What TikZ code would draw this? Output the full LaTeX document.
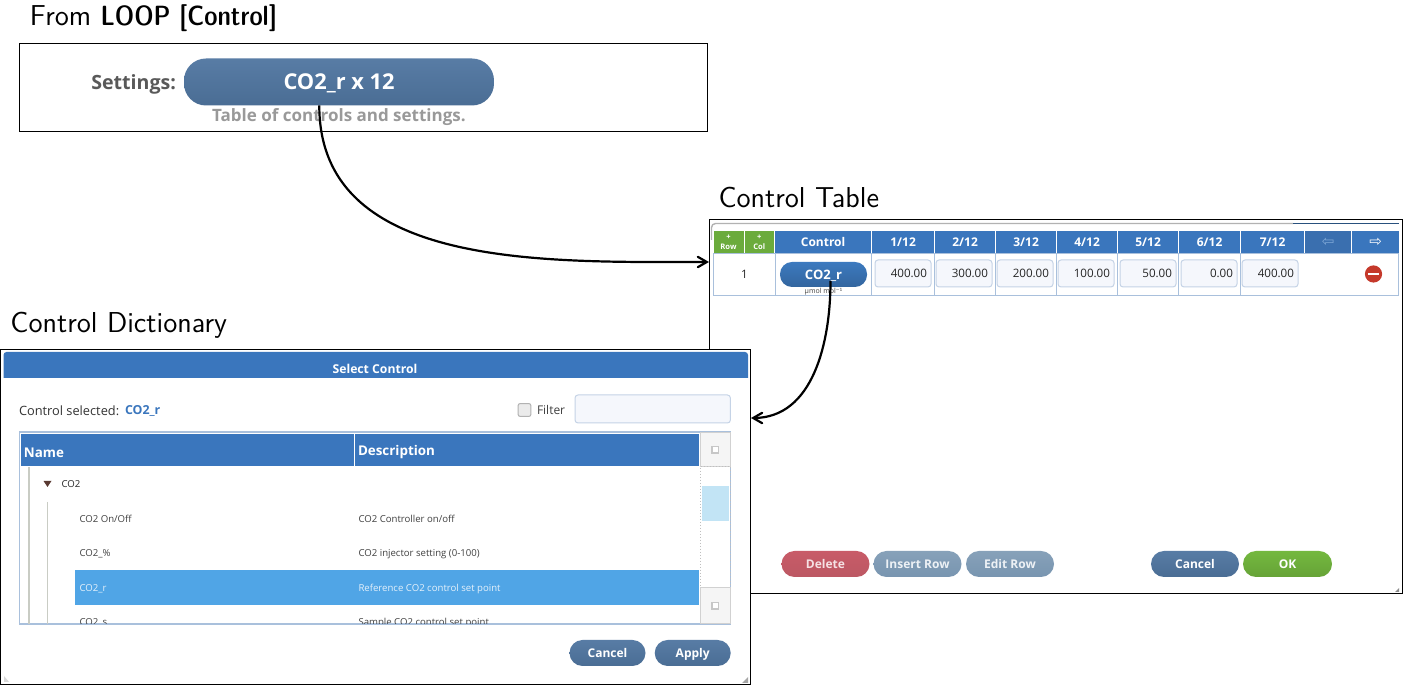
\documentclass[tikz,border=0pt]{standalone}
\usepackage{fontspec}
\setmainfont{Open Sans}
\newfontfamily\symfont{DejaVu Sans}
\newfontfamily\demifont{lmsansdemicond10-regular.otf}
\usetikzlibrary{arrows, positioning}

\definecolor{headblue}{HTML}{3A76BD}
\definecolor{headdim}{HTML}{3A6FAF}
\definecolor{dimarrow}{HTML}{7FA8D6}
\definecolor{rowline}{HTML}{A9C0DC}
\definecolor{inputfill}{HTML}{F5F7FC}
\definecolor{inputline}{HTML}{C5D3E6}
\definecolor{pilltop}{HTML}{587CA5}
\definecolor{pillbot}{HTML}{4A6D94}
\definecolor{tabletop}{HTML}{3C7ABF}
\definecolor{tablebot}{HTML}{33659E}
\definecolor{fadetop}{HTML}{87A1B9}
\definecolor{fadebot}{HTML}{7895B0}
\definecolor{redtop}{HTML}{C85B68}
\definecolor{redbot}{HTML}{BC5863}
\definecolor{greentop}{HTML}{74B83F}
\definecolor{greenbot}{HTML}{66A337}
\definecolor{addgreen}{HTML}{6BAB3C}
\definecolor{selblue}{HTML}{50A5E6}
\definecolor{thumbblue}{HTML}{C2E4F5}
\definecolor{treeline}{HTML}{C9CCC4}
\definecolor{scrollgray}{HTML}{F5F5F5}
\definecolor{delred}{HTML}{C5392B}
\definecolor{arrowbrown}{HTML}{5A3A32}

\begin{document}
\begin{tikzpicture}[x=0.5pt, y=-0.5pt, >=angle 60, inner sep=0pt, outer sep=0pt,
    heading/.style={anchor=base west, font=\sffamily\fontsize{14.4}{16}\selectfont},
    framebox/.style={draw=black, line width=0.5pt, fill=white, anchor=north west},
    pill/.style={rounded corners=6.5pt, top color=pilltop, bottom color=pillbot, text=white,
        minimum height=13pt, text height=4.3pt, text depth=0pt, font=\bfseries\fontsize{6}{7}\selectfont},
    fadepill/.style={pill, top color=fadetop, bottom color=fadebot, text=white!85!fadetop},
    headcell/.style={fill=headblue, text=white, minimum height=11.5pt, font=\bfseries\fontsize{6}{7}\selectfont},
    addcell/.style={headcell, fill=addgreen, align=center, font=\bfseries\fontsize{3.8}{5}\selectfont},
    rowcell/.style={draw=rowline, line width=0.5pt, minimum height=21pt, anchor=north west},
    inputbox/.style={draw=inputline, line width=0.5pt, fill=inputfill, rounded corners=1.5pt, minimum height=13.5pt,
        text width=24pt, inner xsep=2pt, align=right, font=\fontsize{5.8}{7}\selectfont, text=black!85},
    treetext/.style={anchor=west, text=black!75, font=\fontsize{4.8}{6}\selectfont},
    scrollbtn/.style={draw=black!18, line width=0.5pt, fill=scrollgray, anchor=north west, minimum width=15.2pt},
    scrollmark/.style={draw=black!22, line width=0.8pt, fill=white, minimum size=3.2pt},
    link/.style={->, line width=1.1pt, black}]
    \useasboundingbox (0,0) rectangle (1410,688);

    %the LOOP part
    \node[heading] (loophead) at (30,26) {From {\demifont\fontsize{13.9}{16}\selectfont LOOP [Control]}};
    \node[framebox, minimum width=344pt, minimum height=44pt] (loopbox) at (19.5,44) {};
    \node[pill, rounded corners=11pt, minimum width=155pt, minimum height=23.5pt, text height=7.8pt,
        font=\bfseries\fontsize{10.9}{12}\selectfont] (looppill) at (339,82) {CO2\_r x 12};
    \node[left=4pt of looppill, text=black!65, text height=7.1pt, text depth=0pt, font=\bfseries\fontsize{9.8}{12}\selectfont] (looplabel) {Settings:};
    \node[text=black!40, font=\bfseries\fontsize{8.5}{10}\selectfont] (loopnote) at (339,117.5) {Table of controls and settings.};

    %the control table
    \node[heading] (tablehead) at (718.5,208) {Control Table};
    \node[framebox, minimum width=346.5pt, minimum height=187pt] (tablebox) at (709,220) {};
    \draw[black!30, line width=0.7pt, rounded corners=2pt] (711.5,240) |- (1293,223.5);
    \draw[tablebot!80!black, line width=0.7pt] (1293,223.5) -- (1399,223.5);
    \fill[black!45] (1395,592) -- (1399,592) -- (1399,588) -- cycle;

    \node[addcell, anchor=north west, minimum width=15pt] (addrow) at (713.5,231) {+\\Row};
    \node[addcell, minimum width=14.8pt, right=0.5pt of addrow] (addcol) {+\\Col};
    \node[headcell, minimum width=48pt, right=0.5pt of addcol] (hctl) {Control};
    \node[headcell, minimum width=31pt, right=0.5pt of hctl] (h1) {1/12};
    \node[headcell, minimum width=30pt, right=0.5pt of h1] (h2) {2/12};
    \node[headcell, minimum width=30pt, right=0.5pt of h2] (h3) {3/12};
    \node[headcell, minimum width=30pt, right=0.5pt of h3] (h4) {4/12};
    \node[headcell, minimum width=30pt, right=0.5pt of h4] (h5) {5/12};
    \node[headcell, minimum width=30.5pt, right=0.5pt of h5] (h6) {6/12};
    \node[headcell, minimum width=31.5pt, right=0.5pt of h6] (h7) {7/12};
    \node[headcell, fill=headdim, text=dimarrow, minimum width=23pt, right=0.5pt of h7, font=\symfont\fontsize{7.5}{8}\selectfont] (hleft) {⇦};
    \node[headcell, minimum width=23.5pt, right=0.5pt of hleft, font=\symfont\fontsize{7.5}{8}\selectfont] (hright) {⇨};

    \node[rowcell, minimum width=31pt, font=\fontsize{5.8}{7}\selectfont, text=black!85] (crow) at (713.5,253.5) {1};
    \node[rowcell, minimum width=47.75pt] (cctl) at (775.5,253.5) {};
    \node[rowcell, minimum width=31.5pt] (c1) at (871,253.5) {};
    \node[rowcell, minimum width=30.5pt] (c2) at (934,253.5) {};
    \node[rowcell, minimum width=30.5pt] (c3) at (995,253.5) {};
    \node[rowcell, minimum width=30.5pt] (c4) at (1056,253.5) {};
    \node[rowcell, minimum width=30.5pt] (c5) at (1117,253.5) {};
    \node[rowcell, minimum width=31pt] (c6) at (1178,253.5) {};
    \node[rowcell, minimum width=79pt] (cend) at (1240,253.5) {};

    \node[pill, top color=tabletop, bottom color=tablebot, rounded corners=6pt, minimum width=43.5pt, minimum height=12.5pt,
        text height=4.7pt, font=\bfseries\fontsize{6.5}{7}\selectfont] (ctlpill) at (823.5,274.5) {CO2\_r};
    \node[font=\fontsize{3.5}{4}\selectfont, text=black!75] (ctlunit) at (823.5,291.5) {µmol mol{\symfont ⁻¹}};
    \node[inputbox] (v1) at (903,273.5) {400.00};
    \node[inputbox] (v2) at (964,273.5) {300.00};
    \node[inputbox] (v3) at (1025,273.5) {200.00};
    \node[inputbox] (v4) at (1086,273.5) {100.00};
    \node[inputbox] (v5) at (1148,273.5) {50.00};
    \node[inputbox] (v6) at (1209,273.5) {0.00};
    \node[inputbox] (v7) at (1270,273.5) {400.00};
    \node[circle, fill=delred, minimum size=8.6pt] (delrow) at (1373.5,274) {};
    \node[fill=white, minimum width=5.6pt, minimum height=1.3pt] (delbar) at (delrow.center) {};

    \node[pill, top color=redtop, bottom color=redbot, text=white!82!redtop, minimum width=44pt] (btndelete) at (825.5,564) {Delete};
    \node[fadepill, minimum width=44pt] (btninsert) at (917.5,564) {Insert Row};
    \node[fadepill, minimum width=44pt] (btnedit) at (1010,564) {Edit Row};
    \node[pill, minimum width=44pt] (btncancel) at (1195,564) {Cancel};
    \node[pill, top color=greentop, bottom color=greenbot, minimum width=44.5pt] (btnok) at (1287.5,564) {OK};

    %the control dictionary
    \node[heading] (dicthead) at (10.5,333) {Control Dictionary};
    \node[framebox, minimum width=375pt, minimum height=167.5pt] (dictbox) at (0.5,349.5) {};
    \fill[headblue] (3.5,358) [rounded corners=1.5pt] -- (3.5,352) -- (748,352) [sharp corners] -- (748,378) -- (3.5,378) -- cycle;
    \node[text=white, font=\bfseries\fontsize{6.1}{7}\selectfont] (dicttext) at (375,369) {Select Control};
    \node[anchor=west, text=black!80, font=\fontsize{6.4}{7}\selectfont] (ctlsel) at (19,410.5) {Control selected:};
    \node[anchor=west, text=headblue, font=\bfseries\fontsize{6.2}{7}\selectfont] (ctlname) at (125,410.5) {CO2\_r};
    \node[draw=black!30, line width=0.5pt, fill=black!8, rounded corners=1pt, minimum size=6.4pt] (filtercheck) at (524.5,410) {};
    \node[anchor=west, text=black!75, font=\fontsize{6}{7}\selectfont] (filterlabel) at (537,410.5) {Filter};
    \node[draw=inputline, line width=0.5pt, fill=inputfill, rounded corners=1.5pt, anchor=north west,
        minimum width=77.7pt, minimum height=14pt] (filterbox) at (575,395) {};

    \node[draw=rowline, line width=0.6pt, anchor=north west, minimum width=355.5pt, minimum height=96pt] (treebox) at (19.5,432) {};
    \node[headcell, anchor=north west, minimum width=166.5pt, minimum height=16pt] (hname) at (21,434) {};
    \node[headcell, minimum width=172pt, minimum height=16pt, right=0.5pt of hname] (hdesc) {};
    \node[anchor=west, text=white, font=\bfseries\fontsize{6.7}{7}\selectfont] (nametext) at (24,452.5) {Name};
    \node[anchor=west, text=white, font=\bfseries\fontsize{6.7}{7}\selectfont] (desctext) at (358,452.5) {Description};

    \begin{scope}
        \clip (20,467) rectangle (699,624);
        \draw[treeline, line width=0.6pt] (29,467) -- (29,624);
        \draw[treeline, line width=0.6pt] (47.5,502) -- (47.5,624);
        \fill[arrowbrown] (43.5,481) -- (51.5,481) -- (47.5,487) -- cycle;
        \node[fill=selblue, anchor=north west, minimum width=311.8pt, minimum height=17.2pt] (selrow) at (75,570.5) {};
        \node[treetext, text=black!85] (tco) at (61.5,484.5) {CO2};
        \node[treetext] (tonoff) at (79.5,519) {CO2 On/Off};
        \node[treetext] (donoff) at (358.5,519) {CO2 Controller on/off};
        \node[treetext] (tpct) at (79.5,554) {CO2\_\%};
        \node[treetext] (dpct) at (358.5,554) {CO2 injector setting (0-100)};
        \node[treetext, text=white!85!selblue] (tr) at (79.5,588.5) {CO2\_r};
        \node[treetext, text=white!85!selblue] (dr) at (358.5,588.5) {Reference CO2 control set point};
        \node[treetext] (ts) at (79.5,623) {CO2\_s};
        \node[treetext] (ds) at (358.5,623) {Sample CO2 control set point};
    \end{scope}

    \node[scrollbtn, minimum height=17pt] (scrolltop) at (700,432.5) {};
    \node[draw=black!25, densely dotted, line width=0.5pt, fill=white, anchor=north west, minimum width=15.2pt, minimum height=60.5pt] (scrolltrack) at (700,466.7) {};
    \node[scrollbtn, minimum height=18pt] (scrollbot) at (700,587.7) {};
    \node[fill=thumbblue, anchor=north west, minimum width=13.5pt, minimum height=17.5pt] (scrollthumb) at (702,486) {};
    \node[scrollmark] (marktop) at (715.3,449.7) {};
    \node[scrollmark] (markbot) at (715.3,605.7) {};

    \node[pill, minimum width=38pt] (dictcancel) at (607.5,653) {Cancel};
    \node[pill, minimum width=38pt] (dictapply) at (692.7,653) {Apply};
    \fill[black!35] (742,683) -- (748,683) -- (748,677) -- cycle;
    \fill[black!15] (4,676) -- (4,682) -- (9,682) -- cycle;

    %define the links
    \coordinate (tablein) at (709,262);
    \coordinate (ctlout) at (830.5,281);
    \coordinate (dictin) at (751,418);
    \draw[link] (looppill.230) to[out=-90, in=180] (tablein);
    \draw[link] (ctlout) to[out=-90, in=0] (dictin);
\end{tikzpicture}
\end{document}
